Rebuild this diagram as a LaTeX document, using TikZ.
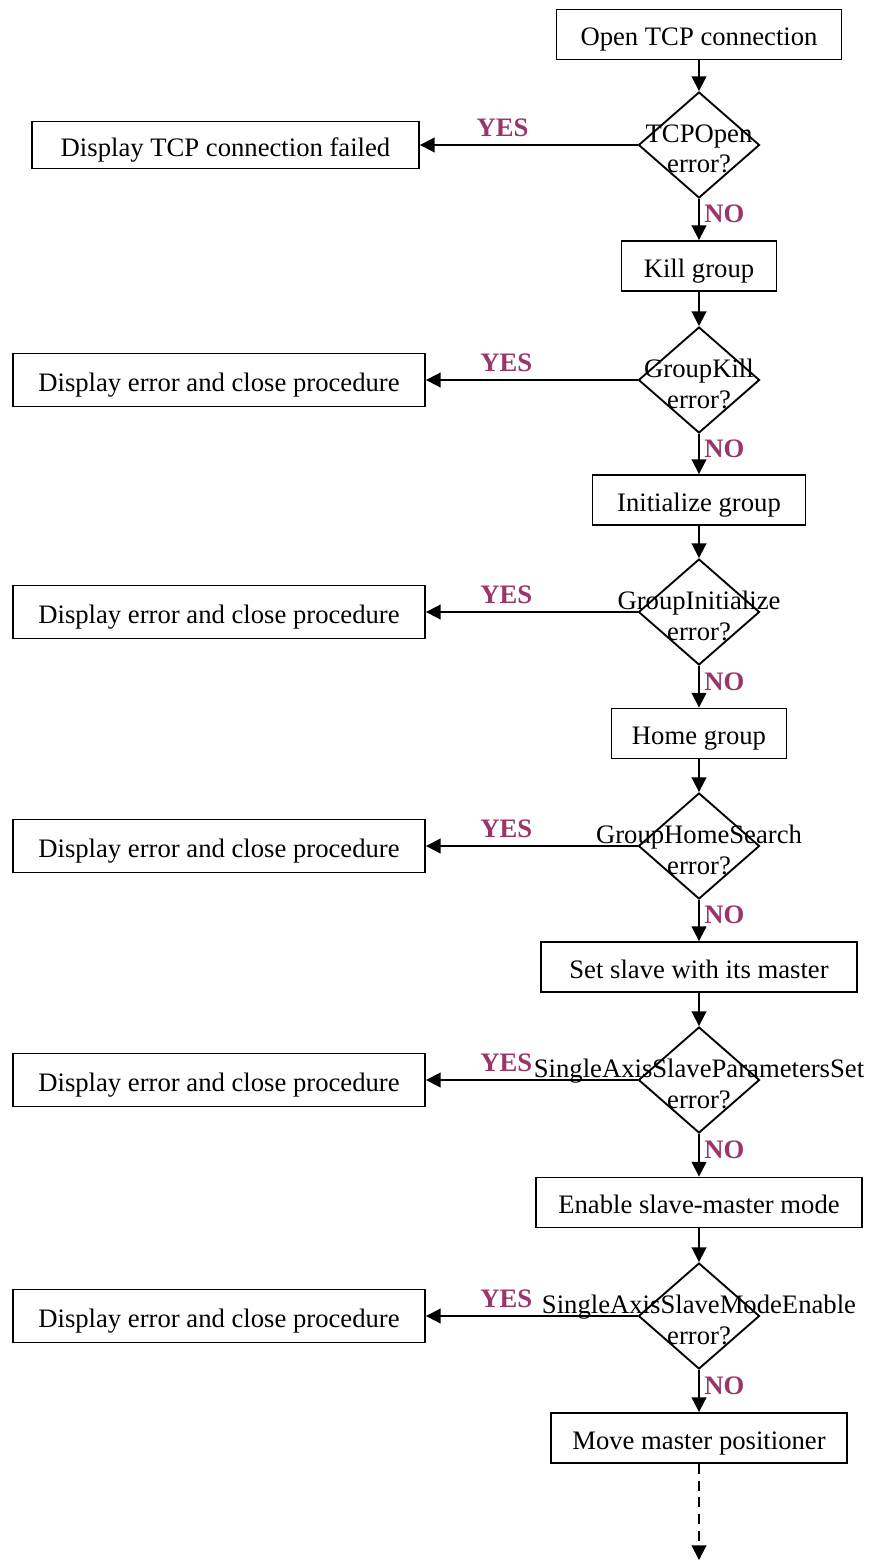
\documentclass[tikz,border=0pt]{standalone}
\usepackage{fontspec}
\setmainfont{Liberation Serif}
\usetikzlibrary{shapes.geometric,arrows.meta}
\definecolor{answercol}{RGB}{155,52,105}
\begin{document}
\begin{tikzpicture}[
  x=0.75pt, y=-0.75pt,
  every node/.style={font=\fontsize{20}{23}\selectfont},
  box/.style={draw, line width=1.4pt, minimum height=37.5pt, inner sep=0pt, text height=22pt, text depth=5pt},
  decision/.style={draw, diamond, line width=1.4pt, minimum width=90.75pt, minimum height=79.5pt, inner sep=0pt},
  flow/.style={line width=1.4pt, -{Triangle[length=11pt,width=11pt]}},
  answer/.style={font=\fontsize{20}{23}\selectfont\bfseries, text=answercol}
]
  \useasboundingbox (0,0) rectangle (886,1562);
  \node[box, minimum width=213.75pt] (open) at (699,34.5) {Open TCP connection};
  \node[decision, label={[align=center, yshift=-3pt]center:TCPOpen\\error?}] (d0) at (699,145) {};
  \node[box, minimum width=290.25pt, minimum height=35.25pt] (e0) at (225.5,145) {Display TCP connection failed};
  \draw[flow] (d0.west) -- node[answer, above=2pt, pos=0.62] {YES} (e0.east);
  \foreach \n/\t/\yy in {1/GroupKill/380, 2/GroupInitialize/612, 3/GroupHomeSearch/846,
      4/SingleAxisSlaveParametersSet/1080, 5/SingleAxisSlaveModeEnable/1316} {
    \node[decision, label={[align=center, yshift=-3pt]center:\t\\error?}] (d\n) at (699,\yy) {};
    \node[box, minimum width=309pt, minimum height=39.75pt] (e\n) at (219,\yy) {Display error and close procedure};
    \draw[flow] (d\n.west) -- node[answer, above=2pt, pos=0.62] {YES} (e\n.east);
  }
  \node[box, minimum width=116.25pt] (kill) at (699,266) {Kill group};
  \node[box, minimum width=159.75pt] (init) at (699,500) {Initialize group};
  \node[box, minimum width=131.25pt] (home) at (699,733.5) {Home group};
  \node[box, minimum width=237pt] (slave) at (699,967) {Set slave with its master};
  \node[box, minimum width=244.5pt] (mode) at (699,1202.5) {Enable slave-master mode};
  \node[box, minimum width=222pt] (move) at (699,1438) {Move master positioner};
  \coordinate (next) at (699,1560);
  \foreach \a/\b in {open/d0, kill/d1, init/d2, home/d3, slave/d4, mode/d5}
    \draw[flow] (\a) -- (\b);
  \foreach \a/\b in {d0/kill, d1/init, d2/home, d3/slave, d4/mode, d5/move}
    \draw[flow] (\a) -- node[answer, right, pos=0.37] {NO} (\b);
  \draw[flow, dash pattern=on 7.5pt off 5pt] (move) -- (next);
\end{tikzpicture}
\end{document}
